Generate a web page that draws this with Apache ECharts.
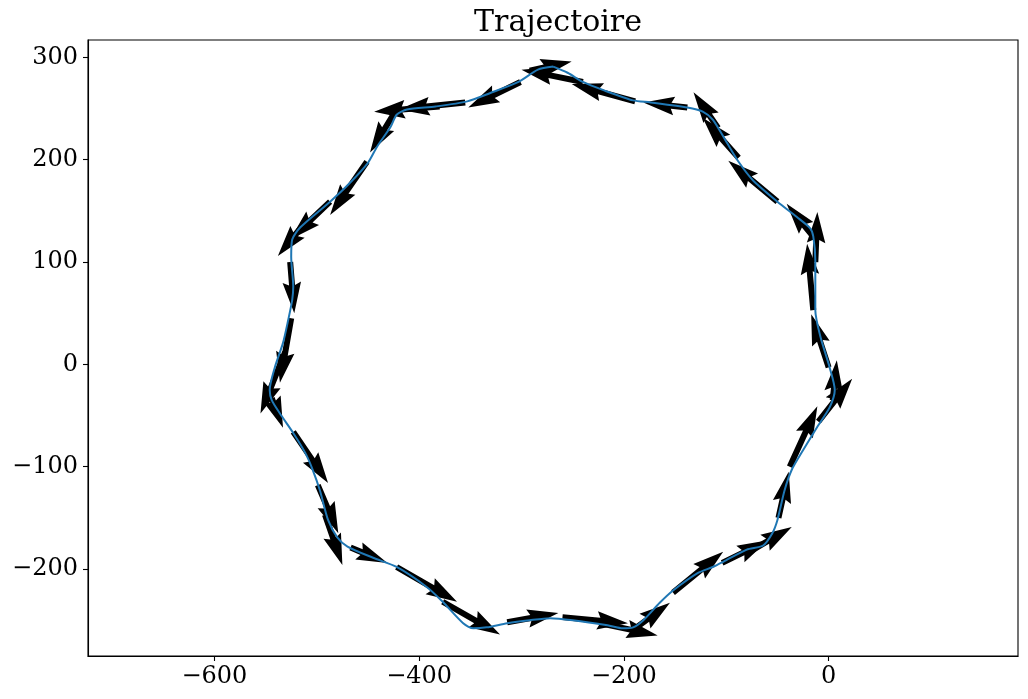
<!DOCTYPE html>
<html>
<head>
<meta charset="utf-8">
<title>Trajectoire</title>
<script src="https://cdn.jsdelivr.net/npm/echarts@6/dist/echarts.min.js"></script>
<style>
  html, body { margin: 0; padding: 0; background: #fff; }
  #chart { width: 1028px; height: 699px; }
</style>
</head>
<body>
<div id="chart"></div>
<script>
// trajectory (x, y), in the order it is travelled
var pathX = [-269, -284, -303, -331, -353, -384, -412, -422, -428, -441, -450, -468, -487, -516, -524, -525,
  -523, -524, -528, -533, -541, -546, -544, -536, -523, -511, -504, -497, -489, -480, -470, -445,
  -422, -392, -377, -357, -347, -334, -314, -292, -272, -250, -216, -201, -191, -181, -165, -152,
  -128, -113, -103, -80, -64, -55, -50, -43, -36, -25, -11, 1, 6, 1, -8, -13, -13, -15, -18, -31,
  -50, -74, -88, -99, -113, -123, -138, -174, -191, -220, -240, -255, -269];
var pathY = [291, 288, 276, 265, 257, 252, 249, 244, 232, 213, 197, 177, 159, 134, 122, 105,
  76, 63, 43, 21, -3, -25, -35, -48, -67, -87, -103, -123, -152, -169, -178, -189,
  -198, -218, -232, -253, -258, -257, -253, -250, -248, -250, -255, -258, -257, -250, -233, -221,
  -204, -198, -193, -181, -177, -165, -152, -123, -103, -84, -61, -42, -25, -3, 27, 53, 102, 125, 133, 144,
  159, 180, 198, 216, 239, 247, 251, 256, 258, 268, 276, 285, 291];

// quiver: tail position and vector
var arrowX = [-138, -189, -240, -292, -301, -355, -380, -424, -451, -487, -511, -526, -525, -531, -544, -523,
  -499, -492, -467, -422, -377, -314, -260, -223, -189, -152, -104, -77, -49, -38, -10, 4, 0, -15, -13, -16,
  -50, -88, -108];
var arrowY = [251, 257, 276, 287, 276, 256, 252, 246, 198, 159, 139, 100, 45, 12, -33, -66,
  -118, -147, -179, -198, -232, -252, -247, -253, -258, -223, -194, -183, -150, -100, -56, -35, -3, 53, 100, 126,
  159, 202, 231];
var arrowU = [-43, -62, -60, 41, -51, -65, -64, -24, -36, -39, -27, 4, -11, -24, 11, 34,
  20, 17, 36, 59, 56, 50, 64, 56, 34, 49, 45, 41, 10, 27, 33, 4, -17, -6, 2, -25,
  -48, -35, -24];
var arrowV = [5, 17, 12, 9, -25, -7, -5, -39, -52, -37, -33, -50, -63, -60, -29, -50,
  -47, -49, -15, -34, -32, 9, -6, -12, 25, 40, 22, 24, 45, 59, 42, 39, 52, 65, 49, 31,
  40, 39, 35];

var xTicks = [-600, -400, -200, 0];
var yTicks = [-200, -100, 0, 100, 200, 300];

var FONT = 'DejaVu Serif';

function minus(v) {
    return String(v).replace('-', '\u2212');
}

// matplotlib-like quiver arrow, sizes in pixels
function renderArrow(params, api) {
    var x = api.value(0), y = api.value(1);
    var p0 = api.coord([x, y]);
    var p1 = api.coord([x + api.value(2), y + api.value(3)]);
    var dx = p1[0] - p0[0], dy = p1[1] - p0[1];
    var L = Math.sqrt(dx * dx + dy * dy);
    if (!L) return;
    var ux = dx / L, uy = dy / L, nx = -uy, ny = ux;
    var w = 6, hl = 31, hal = 28, hw = 18.5;
    var s = Math.min(1, L / hl);
    var local = [[0, -w / 2], [L - hal * s, -w / 2], [L - hl * s, -hw / 2 * s], [L, 0],
        [L - hl * s, hw / 2 * s], [L - hal * s, w / 2], [0, w / 2]];
    var pts = local.map(function (p) {
        return [p0[0] + p[0] * ux + p[1] * nx, p0[1] + p[0] * uy + p[1] * ny];
    });
    return {
        type: 'polygon',
        shape: { points: pts },
        style: { fill: '#000' }
    };
}

var pathData = pathX.map(function (v, i) { return [v, pathY[i]]; });
var arrowData = arrowX.map(function (v, i) { return [v, arrowY[i], arrowU[i], arrowV[i]]; });

var myChart = echarts.init(document.getElementById('chart'));
var option = {
    animation: false,
    backgroundColor: '#fff',
    title: {
        text: 'Trajectoire',
        left: 553,
        textAlign: 'center',
        top: 3,
        textStyle: { fontFamily: FONT, fontSize: 30, fontWeight: 'normal', color: '#000' }
    },
    grid: {
        left: 88, right: 10, top: 40, bottom: 43,
        show: true, borderColor: '#000', borderWidth: 1.1, backgroundColor: 'transparent'
    },
    xAxis: {
        type: 'value',
        min: -723.5,
        max: 185,
        splitLine: { show: false },
        axisLine: { show: true, onZero: false, lineStyle: { color: '#000', width: 1.1 } },
        axisTick: { show: true, length: 5, customValues: xTicks, lineStyle: { color: '#000', width: 1.1 } },
        axisLabel: {
            customValues: xTicks, margin: 9,
            fontFamily: FONT, fontSize: 24, color: '#000',
            formatter: minus
        }
    },
    yAxis: {
        type: 'value',
        min: -285,
        max: 317,
        splitLine: { show: false },
        axisLine: { show: true, onZero: false, lineStyle: { color: '#000', width: 1.1 } },
        axisTick: { show: true, length: 5, customValues: yTicks, lineStyle: { color: '#000', width: 1.1 } },
        axisLabel: {
            customValues: yTicks, margin: 10,
            fontFamily: FONT, fontSize: 24, color: '#000',
            formatter: minus
        }
    },
    series: [
        {
            type: 'custom',
            z: 1,
            renderItem: renderArrow,
            encode: { x: 0, y: 1 },
            data: arrowData,
            clip: true
        },
        {
            type: 'line',
            z: 2,
            data: pathData,
            smooth: 0.25,
            showSymbol: false,
            lineStyle: { color: '#1f77b4', width: 2 }
        }
    ]
};
myChart.setOption(option);
window.addEventListener('resize', myChart.resize);
</script>
</body>
</html>
